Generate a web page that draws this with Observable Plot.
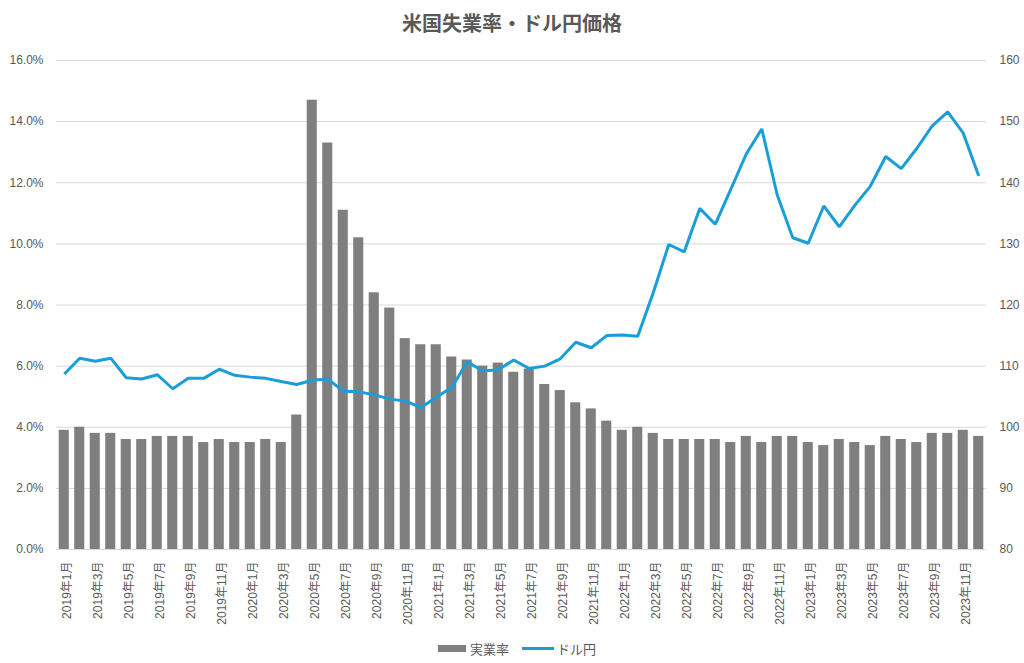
<!DOCTYPE html>
<html>
<head>
<meta charset="utf-8">
<script src="https://cdn.jsdelivr.net/npm/d3@7"></script>
<script src="https://cdn.jsdelivr.net/npm/@observablehq/plot@0.6"></script>
<style>
  html, body { margin: 0; padding: 0; background: #ffffff; }
  #wrap { position: relative; width: 1024px; height: 663px; font-family: "Liberation Sans", Arial, "Noto Sans CJK JP", sans-serif; color: #595959; }
  #title { position: absolute; left: 0; top: 0; width: 1024px; height: 45px; line-height: 45px; text-align: center; font-size: 20px; font-weight: bold; color: #595959; font-family: "Noto Sans CJK JP", sans-serif; }
  #chart { position: absolute; left: 0; top: 45px; }
  #legend { position: absolute; left: 438px; top: 638px; height: 20px; display: flex; align-items: center; font-size: 13px; color: #595959; font-family: "Noto Sans CJK JP", sans-serif; }
  .sw-bar { width: 28px; height: 7px; background: #7f7f7f; margin-right: 4px; }
  .sw-line { width: 32px; height: 3px; background: #1a9ed9; margin-right: 3px; margin-left: 13px; }
</style>
</head>
<body>
<div id="wrap">
  <div id="title">米国失業率・ドル円価格</div>
  <div id="chart"></div>
  <div id="legend"><div class="sw-bar"></div><span>実業率</span><div class="sw-line"></div><span>ドル円</span></div>
</div>
<script>
const months = [
  "2019年1月","2019年2月","2019年3月","2019年4月","2019年5月","2019年6月","2019年7月","2019年8月","2019年9月","2019年10月","2019年11月","2019年12月",
  "2020年1月","2020年2月","2020年3月","2020年4月","2020年5月","2020年6月","2020年7月","2020年8月","2020年9月","2020年10月","2020年11月","2020年12月",
  "2021年1月","2021年2月","2021年3月","2021年4月","2021年5月","2021年6月","2021年7月","2021年8月","2021年9月","2021年10月","2021年11月","2021年12月",
  "2022年1月","2022年2月","2022年3月","2022年4月","2022年5月","2022年6月","2022年7月","2022年8月","2022年9月","2022年10月","2022年11月","2022年12月",
  "2023年1月","2023年2月","2023年3月","2023年4月","2023年5月","2023年6月","2023年7月","2023年8月","2023年9月","2023年10月","2023年11月","2023年12月"
];
const unemployment = [
  3.9, 4.0, 3.8, 3.8, 3.6, 3.6, 3.7, 3.7, 3.7, 3.5, 3.6, 3.5,
  3.5, 3.6, 3.5, 4.4, 14.7, 13.3, 11.1, 10.2, 8.4, 7.9, 6.9, 6.7,
  6.7, 6.3, 6.2, 6.0, 6.1, 5.8, 5.9, 5.4, 5.2, 4.8, 4.6, 4.2,
  3.9, 4.0, 3.8, 3.6, 3.6, 3.6, 3.6, 3.5, 3.7, 3.5, 3.7, 3.7,
  3.5, 3.4, 3.6, 3.5, 3.4, 3.7, 3.6, 3.5, 3.8, 3.8, 3.9, 3.7
];
const usdjpy = [
  108.7, 111.3, 110.8, 111.3, 108.1, 107.9, 108.6, 106.3, 108.0, 108.0, 109.5, 108.5,
  108.2, 108.0, 107.5, 107.0, 107.7, 107.9, 105.9, 105.8, 105.3, 104.6, 104.3, 103.2,
  104.9, 106.5, 110.7, 109.2, 109.4, 111.0, 109.6, 110.0, 111.2, 113.9, 113.0, 115.0,
  115.1, 114.9, 122.0, 129.9, 128.7, 135.8, 133.2, 138.9, 144.7, 148.8, 138.0, 131.0,
  130.1, 136.2, 132.8, 136.3, 139.4, 144.3, 142.3, 145.6, 149.3, 151.6, 148.1, 141.1
];
const leftTicks = [0, 2, 4, 6, 8, 10, 12, 14, 16];
const rightTicks = [80, 90, 100, 110, 120, 130, 140, 150, 160];
const xTickLabels = months.filter((m, i) => i % 2 === 0);

const data = months.map((m, i) => ({month: m, rate: unemployment[i], jpy: usdjpy[i]}));
// secondary axis 80–160 mapped onto 0–16 of the primary axis
const toPrimary = v => (v - 80) / 5;

const chart = Plot.plot({
  width: 1024,
  height: 590,
  marginLeft: 56,
  marginRight: 38,
  marginTop: 15,
  marginBottom: 86,
  style: {fontFamily: "'Liberation Sans', Arial, 'Noto Sans CJK JP', sans-serif", fontSize: "12px", color: "#595959", background: "transparent"},
  x: {type: "band", domain: months, paddingInner: 0.35, paddingOuter: 0.175, round: false, axis: null},
  y: {domain: [0, 16], axis: null},
  marks: [
    Plot.ruleY(leftTicks, {stroke: "#d9d9d9", strokeWidth: 1}),
    Plot.barY(data, {x: "month", y: "rate", fill: "#7f7f7f"}),
    Plot.lineY(data, {x: "month", y: d => toPrimary(d.jpy), stroke: "#1a9ed9", strokeWidth: 3, strokeLinejoin: "miter", strokeLinecap: "butt"}),
    Plot.axisY({anchor: "left", label: null, ticks: leftTicks, tickSize: 0, tickPadding: 13, tickFormat: d => d.toFixed(1) + "%", fill: "#595959"}),
    Plot.axisY({anchor: "right", label: null, ticks: rightTicks.map(toPrimary), tickSize: 0, tickPadding: 13, tickFormat: d => String(80 + d * 5), fill: "#595959"}),
    Plot.axisX({label: null, ticks: xTickLabels, tickSize: 0, tickPadding: 12, tickRotate: -90, dx: 3, fill: "#595959"})
  ]
});
document.getElementById("chart").appendChild(chart);
</script>
</body>
</html>
